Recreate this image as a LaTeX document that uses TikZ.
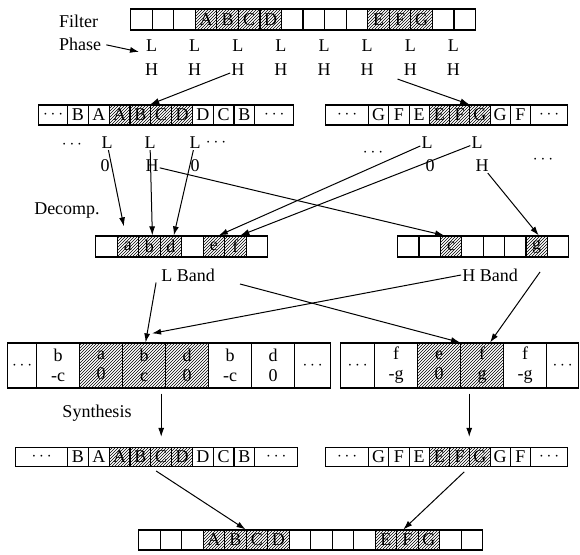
\documentclass[tikz,border=0pt]{standalone}
\usepackage{fontspec}
\setmainfont{Liberation Serif}
\usetikzlibrary{arrows.meta, patterns, positioning}

\begin{document}
\begin{tikzpicture}[
    x=1pt, y=-1pt,
    font=\fontsize{18}{20}\selectfont,
    cell/.style={draw, line width=1.2pt, inner sep=0pt, minimum height=20pt, anchor=west},
    plain/.style={cell},
    hatch/.style={cell, pattern=north east lines, pattern color=black},
    lbl/.style={inner sep=1pt},
    arrow/.style={-{Latex[length=9pt,width=6pt]}, line width=1pt}
]
    \useasboundingbox (0,0) rectangle (580,554);

    % Source signal
    \node[lbl, anchor=west] (filter) at (58,21) {Filter};
    \node[lbl, anchor=west] (phase) at (58,44) {Phase};
    \foreach \lab/\sty [count=\i from 0] in {{}/plain,{}/plain,{}/plain,A/hatch,B/hatch,C/hatch,D/hatch,{}/plain,{}/plain,{}/plain,{}/plain,E/hatch,F/hatch,G/hatch,{}/plain,{}/plain}
        \node[\sty, minimum width=21.56pt, minimum height=21pt] (src\i) at (130+21.56*\i, 19.5) {\lab};
    \foreach \k in {0,...,7} {
        \node[lbl] (tl\k) at (151.56+43.12*\k, 46) {L};
        \node[lbl] (th\k) at (151.56+43.12*\k, 70) {H};
    }

    % Extended signals
    \node[plain, minimum width=29pt] (pl0) at (38,115) {$\cdots$};
    \foreach \lab/\sty [count=\i] in {B/plain,A/plain,A/hatch,B/hatch,C/hatch,D/hatch,D/plain,C/plain,B/plain}
        \node[\sty, minimum width=20.8pt] (pl\i) at (46.2+20.8*\i, 115) {\lab};
    \node[plain, minimum width=39pt] (pl10) at (254.2,115) {$\cdots$};

    \node[plain, minimum width=43pt] (pr0) at (325,115) {$\cdots$};
    \foreach \lab/\sty [count=\i] in {G/plain,F/plain,E/plain,E/hatch,F/hatch,G/hatch,G/plain,F/plain}
        \node[\sty, minimum width=20.25pt] (pr\i) at (347.75+20.25*\i, 115) {\lab};
    \node[plain, minimum width=37pt] (pr9) at (530,115) {$\cdots$};

    \node[lbl] (ldots1) at (72,145) {$\cdots$};
    \node[lbl] (ll1) at (107,143) {L};
    \node[lbl] (ll2) at (150,143) {L};
    \node[lbl] (ll3) at (195,143) {L};
    \node[lbl] (ldots2) at (216,143) {$\cdots$};
    \node[lbl] (lz1) at (105,166) {0};
    \node[lbl] (lh) at (152,166) {H};
    \node[lbl] (lz2) at (195,166) {0};

    \node[lbl] (rdots1) at (373,153) {$\cdots$};
    \node[lbl] (rl1) at (427,143) {L};
    \node[lbl] (rl2) at (477,143) {L};
    \node[lbl] (rz) at (430,166) {0};
    \node[lbl] (rh) at (482,166) {H};
    \node[lbl] (rdots2) at (543,160) {$\cdots$};

    % Subbands
    \node[lbl] (decomp) at (67,211) {Decomp.};
    \foreach \lab/\sty [count=\i from 0] in {{}/plain,a/hatch,b/hatch,d/hatch,{}/plain,e/hatch,f/hatch,{}/plain}
        \node[\sty, minimum width=21.5pt, minimum height=21pt] (lo\i) at (95+21.5*\i, 246.5) {\lab};
    \foreach \lab/\sty [count=\i from 0] in {{}/plain,{}/plain,c/hatch,{}/plain,{}/plain,{}/plain,g/hatch,{}/plain}
        \node[\sty, minimum width=21.4pt, minimum height=21pt] (hi\i) at (397+21.4*\i, 246.5) {\lab};
    \node[lbl] (lband) at (188,275) {L Band};
    \node[lbl] (hband) at (490,275) {H Band};
    \coordinate (lfork) at (240,284);
    \coordinate (hfork) at (540,272);

    % Upsampled and filtered
    \node[plain, minimum width=29pt, minimum height=45pt] (sl0) at (7,365.5) {$\cdots$};
    \foreach \lab/\sty [count=\i] in {{b\\-c}/plain,{a\\0}/hatch,{b\\c}/hatch,{d\\0}/hatch,{b\\-c}/plain,{d\\0}/plain}
        \node[\sty, align=center, minimum width=43pt, minimum height=45pt] (sl\i) at (-7+43*\i, 365.5) {\lab};
    \node[plain, minimum width=36pt, minimum height=45pt] (sl7) at (294,365.5) {$\cdots$};

    \node[plain, minimum width=34pt, minimum height=45pt] (sr0) at (340,365.5) {$\cdots$};
    \foreach \lab/\sty [count=\i] in {{f\\-g}/plain,{e\\0}/hatch,{f\\g}/hatch,{f\\-g}/plain}
        \node[\sty, align=center, minimum width=43pt, minimum height=45pt] (sr\i) at (331+43*\i, 365.5) {\lab};
    \node[plain, minimum width=32pt, minimum height=45pt] (sr5) at (546,365.5) {$\cdots$};

    % Reconstructed signals
    \node[lbl] (synth) at (97,413) {Synthesis};
    \node[plain, minimum width=52pt, minimum height=19pt] (ol0) at (15,457) {$\cdots$};
    \foreach \lab/\sty [count=\i] in {B/plain,A/plain,A/hatch,B/hatch,C/hatch,D/hatch,D/plain,C/plain,B/plain}
        \node[\sty, minimum width=20.8pt, minimum height=19pt] (ol\i) at (46.2+20.8*\i, 457) {\lab};
    \node[plain, minimum width=43pt, minimum height=19pt] (ol10) at (254.2,457) {$\cdots$};

    \node[plain, minimum width=43pt, minimum height=19pt] (or0) at (325,457) {$\cdots$};
    \foreach \lab/\sty [count=\i] in {G/plain,F/plain,E/plain,E/hatch,F/hatch,G/hatch,G/plain,F/plain}
        \node[\sty, minimum width=20.25pt, minimum height=19pt] (or\i) at (347.75+20.25*\i, 457) {\lab};
    \node[plain, minimum width=37pt, minimum height=19pt] (or9) at (530,457) {$\cdots$};

    \foreach \lab/\sty [count=\i from 0] in {{}/plain,{}/plain,{}/plain,A/hatch,B/hatch,C/hatch,D/hatch,{}/plain,{}/plain,{}/plain,{}/plain,E/hatch,F/hatch,G/hatch,{}/plain,{}/plain}
        \node[\sty, minimum width=21.5pt] (dst\i) at (138+21.5*\i, 540) {\lab};

    % Connections
    \draw[arrow, shorten <=4pt, shorten >=6pt] (phase.east) -- (tl0.south west);
    \draw[arrow] (th2) -- (pl5.north west);
    \draw[arrow] ([xshift=-5pt,yshift=-2pt]th6.south west) -- (pr6.north west);

    \draw[arrow] (ll1) -- ([xshift=-4pt,yshift=9pt]lo1.north);
    \draw[arrow] (ll2) -- ([xshift=3pt]lo2.north);
    \draw[arrow] (ll3) -- ([xshift=3pt]lo3.north);
    \draw[arrow] (lh) -- ([xshift=-7pt]hi2.north);
    \draw[arrow] (rl1) -- ([xshift=5pt]lo5.north);
    \draw[arrow] (rl2) -- ([xshift=5pt]lo6.north);
    \draw[arrow] (rh) -- ([xshift=2pt]hi6.north);

    \draw[arrow] ([xshift=-4pt]lband.south west) -- ([xshift=1.5pt]sl3.north);
    \draw[arrow] (lfork) -- (sr3.north west);
    \draw[arrow] (hband.west) -- ([xshift=8pt,yshift=9pt]sl3.north);
    \draw[arrow] (hfork) -- ([xshift=8pt]sr3.north);

    \draw[arrow, shorten <=5pt] (sl3.south -| ol5.north) -- ([yshift=10pt]ol5.north);
    \draw[arrow, shorten <=5pt] (sr3.south -| or6.north west) -- ([yshift=10pt]or6.north west);

    \draw[arrow, shorten <=7pt] (ol5.south west) -- (dst5.north west);
    \draw[arrow, shorten <=7pt] (or6.south west) -- ([xshift=-4pt]dst12.north);
\end{tikzpicture}
\end{document}
